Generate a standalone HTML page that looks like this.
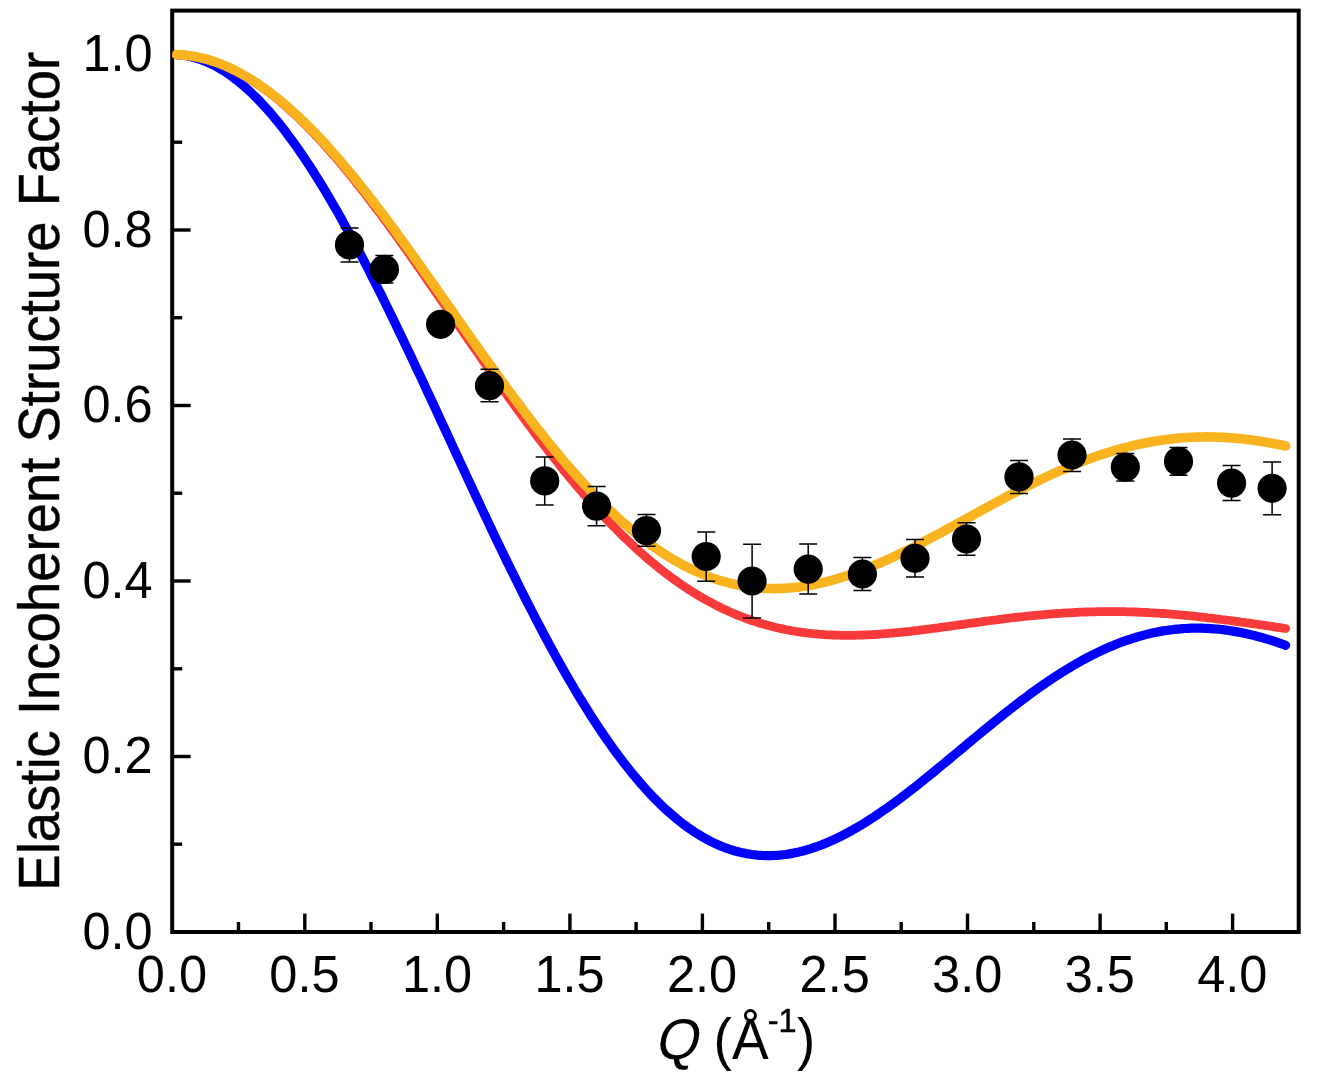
<!DOCTYPE html>
<html lang="en"><head><meta charset="utf-8"><title>Elastic Incoherent Structure Factor</title>
<style>html,body{margin:0;padding:0;background:#fff}svg{display:block}text{font-family:"Liberation Sans",sans-serif;fill:#000}</style></head><body>
<svg width="1322" height="1086" viewBox="0 0 1322 1086">
<rect width="1322" height="1086" fill="#fff"/>
<g stroke="#000" stroke-width="3.4" fill="none">
<path d="M238.5 932.0V922.0"/>
<path d="M304.8 932.0V913.6"/>
<path d="M371.0 932.0V922.0"/>
<path d="M437.3 932.0V913.6"/>
<path d="M503.6 932.0V922.0"/>
<path d="M569.9 932.0V913.6"/>
<path d="M636.1 932.0V922.0"/>
<path d="M702.4 932.0V913.6"/>
<path d="M768.7 932.0V922.0"/>
<path d="M835.0 932.0V913.6"/>
<path d="M901.2 932.0V922.0"/>
<path d="M967.5 932.0V913.6"/>
<path d="M1033.8 932.0V922.0"/>
<path d="M1100.1 932.0V913.6"/>
<path d="M1166.3 932.0V922.0"/>
<path d="M1232.6 932.0V913.6"/>
<path d="M172.2 844.2H182.2"/>
<path d="M172.2 756.5H190.6"/>
<path d="M172.2 668.8H182.2"/>
<path d="M172.2 581.0H190.6"/>
<path d="M172.2 493.2H182.2"/>
<path d="M172.2 405.5H190.6"/>
<path d="M172.2 317.7H182.2"/>
<path d="M172.2 230.0H190.6"/>
<path d="M172.2 142.2H182.2"/>
<path d="M172.2 54.5H190.6"/>
</g>
<rect x="172.2" y="10.6" width="1126.5" height="921.4" fill="none" stroke="#000" stroke-width="4.0"/>
<clipPath id="pa"><rect x="172.2" y="10.6" width="1126.5" height="921.4"/></clipPath>
<g fill="none" stroke-linecap="round" stroke-linejoin="round" clip-path="url(#pa)">
<path d="M176.4,54.6 L179.2,54.8 L182.0,55.1 L184.8,55.5 L187.6,56.0 L190.3,56.5 L193.1,57.2 L195.9,58.0 L198.7,58.9 L201.5,59.8 L204.2,60.9 L207.0,62.0 L209.8,63.3 L212.6,64.6 L215.4,66.0 L218.1,67.6 L220.9,69.2 L223.7,70.9 L226.5,72.7 L229.3,74.6 L232.0,76.6 L234.8,78.7 L237.6,80.8 L240.4,83.1 L243.2,85.4 L245.9,87.9 L248.7,90.4 L251.5,93.0 L254.3,95.7 L257.1,98.5 L259.8,101.3 L262.6,104.3 L265.4,107.3 L268.2,110.4 L271.0,113.6 L273.7,116.9 L276.5,120.2 L279.3,123.7 L282.1,127.2 L284.9,130.8 L287.6,134.4 L290.4,138.2 L293.2,142.0 L296.0,145.9 L298.8,149.9 L301.5,153.9 L304.3,158.0 L307.1,162.2 L309.9,166.4 L312.7,170.7 L315.4,175.1 L318.2,179.5 L321.0,184.0 L323.8,188.6 L326.6,193.2 L329.3,197.9 L332.1,202.7 L334.9,207.5 L337.7,212.3 L340.5,217.2 L343.2,222.2 L346.0,227.2 L348.8,232.3 L351.6,237.4 L354.4,242.6 L357.1,247.8 L359.9,253.1 L362.7,258.4 L365.5,263.8 L368.3,269.2 L371.0,274.6 L373.8,280.1 L376.6,285.6 L379.4,291.2 L382.2,296.7 L384.9,302.4 L387.7,308.0 L390.5,313.7 L393.3,319.4 L396.1,325.2 L398.8,331.0 L401.6,336.7 L404.4,342.6 L407.2,348.4 L410.0,354.3 L412.7,360.2 L415.5,366.1 L418.3,372.0 L421.1,377.9 L423.9,383.9 L426.6,389.9 L429.4,395.8 L432.2,401.8 L435.0,407.8 L437.8,413.8 L440.5,419.8 L443.3,425.8 L446.1,431.8 L448.9,437.9 L451.7,443.9 L454.4,449.9 L457.2,455.9 L460.0,461.9 L462.8,467.9 L465.6,473.9 L468.3,479.9 L471.1,485.8 L473.9,491.8 L476.7,497.8 L479.5,503.7 L482.2,509.6 L485.0,515.5 L487.8,521.4 L490.6,527.3 L493.3,533.1 L496.1,538.9 L498.9,544.7 L501.7,550.5 L504.5,556.2 L507.2,562.0 L510.0,567.6 L512.8,573.3 L515.6,578.9 L518.4,584.5 L521.1,590.1 L523.9,595.6 L526.7,601.1 L529.5,606.6 L532.3,612.0 L535.0,617.4 L537.8,622.7 L540.6,628.0 L543.4,633.3 L546.2,638.5 L548.9,643.7 L551.7,648.8 L554.5,653.9 L557.3,658.9 L560.1,663.9 L562.8,668.8 L565.6,673.7 L568.4,678.5 L571.2,683.3 L574.0,688.0 L576.7,692.7 L579.5,697.3 L582.3,701.8 L585.1,706.3 L587.9,710.8 L590.6,715.2 L593.4,719.5 L596.2,723.7 L599.0,728.0 L601.8,732.1 L604.5,736.2 L607.3,740.2 L610.1,744.2 L612.9,748.1 L615.7,751.9 L618.4,755.6 L621.2,759.3 L624.0,763.0 L626.8,766.5 L629.6,770.0 L632.3,773.5 L635.1,776.8 L637.9,780.1 L640.7,783.4 L643.5,786.5 L646.2,789.6 L649.0,792.6 L651.8,795.6 L654.6,798.5 L657.4,801.3 L660.1,804.0 L662.9,806.7 L665.7,809.3 L668.5,811.8 L671.3,814.3 L674.0,816.6 L676.8,818.9 L679.6,821.2 L682.4,823.4 L685.2,825.4 L687.9,827.5 L690.7,829.4 L693.5,831.3 L696.3,833.1 L699.1,834.8 L701.8,836.5 L704.6,838.1 L707.4,839.6 L710.2,841.1 L713.0,842.5 L715.7,843.8 L718.5,845.0 L721.3,846.2 L724.1,847.3 L726.9,848.3 L729.6,849.3 L732.4,850.1 L735.2,851.0 L738.0,851.7 L740.8,852.4 L743.5,853.0 L746.3,853.6 L749.1,854.0 L751.9,854.5 L754.7,854.8 L757.4,855.1 L760.2,855.3 L763.0,855.5 L765.8,855.6 L768.6,855.6 L771.3,855.6 L774.1,855.5 L776.9,855.3 L779.7,855.1 L782.5,854.8 L785.2,854.5 L788.0,854.1 L790.8,853.6 L793.6,853.1 L796.4,852.5 L799.1,851.9 L801.9,851.2 L804.7,850.5 L807.5,849.7 L810.3,848.8 L813.0,847.9 L815.8,847.0 L818.6,846.0 L821.4,845.0 L824.2,843.9 L826.9,842.7 L829.7,841.5 L832.5,840.3 L835.3,839.0 L838.1,837.7 L840.8,836.3 L843.6,834.9 L846.4,833.4 L849.2,831.9 L852.0,830.4 L854.7,828.8 L857.5,827.2 L860.3,825.6 L863.1,823.9 L865.9,822.1 L868.6,820.4 L871.4,818.6 L874.2,816.8 L877.0,814.9 L879.8,813.0 L882.5,811.1 L885.3,809.2 L888.1,807.2 L890.9,805.2 L893.7,803.2 L896.4,801.2 L899.2,799.1 L902.0,797.0 L904.8,794.9 L907.6,792.8 L910.3,790.6 L913.1,788.5 L915.9,786.3 L918.7,784.1 L921.5,781.9 L924.2,779.6 L927.0,777.4 L929.8,775.2 L932.6,772.9 L935.4,770.6 L938.1,768.3 L940.9,766.0 L943.7,763.7 L946.5,761.4 L949.3,759.1 L952.0,756.8 L954.8,754.5 L957.6,752.2 L960.4,749.9 L963.2,747.6 L965.9,745.2 L968.7,742.9 L971.5,740.6 L974.3,738.3 L977.1,736.0 L979.8,733.7 L982.6,731.4 L985.4,729.1 L988.2,726.9 L991.0,724.6 L993.7,722.3 L996.5,720.1 L999.3,717.9 L1002.1,715.6 L1004.9,713.4 L1007.6,711.2 L1010.4,709.1 L1013.2,706.9 L1016.0,704.8 L1018.8,702.6 L1021.5,700.5 L1024.3,698.4 L1027.1,696.4 L1029.9,694.3 L1032.6,692.3 L1035.4,690.3 L1038.2,688.3 L1041.0,686.3 L1043.8,684.4 L1046.5,682.5 L1049.3,680.6 L1052.1,678.7 L1054.9,676.9 L1057.7,675.1 L1060.4,673.3 L1063.2,671.6 L1066.0,669.8 L1068.8,668.2 L1071.6,666.5 L1074.3,664.9 L1077.1,663.3 L1079.9,661.7 L1082.7,660.1 L1085.5,658.6 L1088.2,657.2 L1091.0,655.7 L1093.8,654.3 L1096.6,653.0 L1099.4,651.6 L1102.1,650.3 L1104.9,649.0 L1107.7,647.8 L1110.5,646.6 L1113.3,645.5 L1116.0,644.3 L1118.8,643.2 L1121.6,642.2 L1124.4,641.2 L1127.2,640.2 L1129.9,639.3 L1132.7,638.4 L1135.5,637.5 L1138.3,636.7 L1141.1,635.9 L1143.8,635.1 L1146.6,634.4 L1149.4,633.7 L1152.2,633.1 L1155.0,632.5 L1157.7,631.9 L1160.5,631.4 L1163.3,630.9 L1166.1,630.5 L1168.9,630.1 L1171.6,629.7 L1174.4,629.4 L1177.2,629.1 L1180.0,628.9 L1182.8,628.6 L1185.5,628.5 L1188.3,628.3 L1191.1,628.2 L1193.9,628.2 L1196.7,628.1 L1199.4,628.2 L1202.2,628.2 L1205.0,628.3 L1207.8,628.4 L1210.6,628.6 L1213.3,628.8 L1216.1,629.0 L1218.9,629.2 L1221.7,629.5 L1224.5,629.9 L1227.2,630.3 L1230.0,630.7 L1232.8,631.1 L1235.6,631.6 L1238.4,632.1 L1241.1,632.6 L1243.9,633.2 L1246.7,633.8 L1249.5,634.4 L1252.3,635.1 L1255.0,635.8 L1257.8,636.5 L1260.6,637.2 L1263.4,638.0 L1266.2,638.8 L1268.9,639.7 L1271.7,640.5 L1274.5,641.4 L1277.3,642.3 L1280.1,643.3 L1282.8,644.3 L1285.6,645.3" stroke="#0000ff" stroke-width="9.2"/>
<path d="M176.4,54.6 L179.2,54.7 L182.0,54.9 L184.8,55.2 L187.6,55.5 L190.3,55.9 L193.1,56.3 L195.9,56.8 L198.7,57.4 L201.5,58.1 L204.2,58.8 L207.0,59.5 L209.8,60.4 L212.6,61.3 L215.4,62.2 L218.1,63.2 L220.9,64.3 L223.7,65.5 L226.5,66.7 L229.3,67.9 L232.0,69.3 L234.8,70.6 L237.6,72.1 L240.4,73.6 L243.2,75.2 L245.9,76.8 L248.7,78.5 L251.5,80.2 L254.3,82.0 L257.1,83.9 L259.8,85.8 L262.6,87.7 L265.4,89.8 L268.2,91.8 L271.0,94.0 L273.7,96.2 L276.5,98.4 L279.3,100.7 L282.1,103.1 L284.9,105.5 L287.6,107.9 L290.4,110.4 L293.2,113.0 L296.0,115.5 L298.8,118.2 L301.5,120.9 L304.3,123.6 L307.1,126.4 L309.9,129.3 L312.7,132.1 L315.4,135.1 L318.2,138.0 L321.0,141.0 L323.8,144.1 L326.6,147.2 L329.3,150.3 L332.1,153.5 L334.9,156.7 L337.7,159.9 L340.5,163.2 L343.2,166.6 L346.0,169.9 L348.8,173.3 L351.6,176.7 L354.4,180.2 L357.1,183.7 L359.9,187.2 L362.7,190.8 L365.5,194.3 L368.3,198.0 L371.0,201.6 L373.8,205.3 L376.6,209.0 L379.4,212.7 L382.2,216.4 L384.9,220.2 L387.7,224.0 L390.5,227.8 L393.3,231.6 L396.1,235.5 L398.8,239.3 L401.6,243.2 L404.4,247.1 L407.2,251.0 L410.0,255.0 L412.7,258.9 L415.5,262.9 L418.3,266.9 L421.1,270.9 L423.9,274.8 L426.6,278.9 L429.4,282.9 L432.2,286.9 L435.0,290.9 L437.8,295.0 L440.5,299.0 L443.3,303.0 L446.1,307.1 L448.9,311.2 L451.7,315.2 L454.4,319.3 L457.2,323.3 L460.0,327.4 L462.8,331.4 L465.6,335.5 L468.3,339.5 L471.1,343.5 L473.9,347.6 L476.7,351.6 L479.5,355.6 L482.2,359.6 L485.0,363.6 L487.8,367.6 L490.6,371.6 L493.3,375.6 L496.1,379.5 L498.9,383.5 L501.7,387.4 L504.5,391.3 L507.2,395.3 L510.0,399.1 L512.8,403.0 L515.6,406.9 L518.4,410.7 L521.1,414.5 L523.9,418.3 L526.7,422.1 L529.5,425.8 L532.3,429.6 L535.0,433.3 L537.8,437.0 L540.6,440.7 L543.4,444.3 L546.2,447.9 L548.9,451.5 L551.7,455.1 L554.5,458.6 L557.3,462.1 L560.1,465.6 L562.8,469.1 L565.6,472.5 L568.4,475.9 L571.2,479.3 L574.0,482.6 L576.7,485.9 L579.5,489.2 L582.3,492.4 L585.1,495.6 L587.9,498.8 L590.6,502.0 L593.4,505.1 L596.2,508.2 L599.0,511.2 L601.8,514.2 L604.5,517.2 L607.3,520.1 L610.1,523.0 L612.9,525.9 L615.7,528.7 L618.4,531.5 L621.2,534.3 L624.0,537.0 L626.8,539.7 L629.6,542.3 L632.3,544.9 L635.1,547.5 L637.9,550.0 L640.7,552.5 L643.5,555.0 L646.2,557.4 L649.0,559.8 L651.8,562.1 L654.6,564.4 L657.4,566.7 L660.1,568.9 L662.9,571.1 L665.7,573.2 L668.5,575.3 L671.3,577.4 L674.0,579.4 L676.8,581.4 L679.6,583.4 L682.4,585.3 L685.2,587.1 L687.9,589.0 L690.7,590.8 L693.5,592.5 L696.3,594.2 L699.1,595.9 L701.8,597.5 L704.6,599.1 L707.4,600.7 L710.2,602.2 L713.0,603.7 L715.7,605.1 L718.5,606.5 L721.3,607.9 L724.1,609.2 L726.9,610.5 L729.6,611.8 L732.4,613.0 L735.2,614.2 L738.0,615.3 L740.8,616.4 L743.5,617.5 L746.3,618.5 L749.1,619.5 L751.9,620.5 L754.7,621.4 L757.4,622.3 L760.2,623.2 L763.0,624.0 L765.8,624.8 L768.6,625.6 L771.3,626.3 L774.1,627.0 L776.9,627.7 L779.7,628.3 L782.5,628.9 L785.2,629.5 L788.0,630.0 L790.8,630.6 L793.6,631.0 L796.4,631.5 L799.1,631.9 L801.9,632.3 L804.7,632.7 L807.5,633.1 L810.3,633.4 L813.0,633.7 L815.8,633.9 L818.6,634.2 L821.4,634.4 L824.2,634.6 L826.9,634.8 L829.7,634.9 L832.5,635.0 L835.3,635.1 L838.1,635.2 L840.8,635.3 L843.6,635.3 L846.4,635.3 L849.2,635.3 L852.0,635.3 L854.7,635.3 L857.5,635.2 L860.3,635.1 L863.1,635.0 L865.9,634.9 L868.6,634.8 L871.4,634.6 L874.2,634.5 L877.0,634.3 L879.8,634.1 L882.5,633.9 L885.3,633.7 L888.1,633.5 L890.9,633.2 L893.7,633.0 L896.4,632.7 L899.2,632.5 L902.0,632.2 L904.8,631.9 L907.6,631.6 L910.3,631.3 L913.1,630.9 L915.9,630.6 L918.7,630.3 L921.5,629.9 L924.2,629.6 L927.0,629.2 L929.8,628.9 L932.6,628.5 L935.4,628.1 L938.1,627.8 L940.9,627.4 L943.7,627.0 L946.5,626.6 L949.3,626.3 L952.0,625.9 L954.8,625.5 L957.6,625.1 L960.4,624.7 L963.2,624.3 L965.9,623.9 L968.7,623.5 L971.5,623.2 L974.3,622.8 L977.1,622.4 L979.8,622.0 L982.6,621.6 L985.4,621.2 L988.2,620.9 L991.0,620.5 L993.7,620.1 L996.5,619.8 L999.3,619.4 L1002.1,619.1 L1004.9,618.7 L1007.6,618.4 L1010.4,618.0 L1013.2,617.7 L1016.0,617.4 L1018.8,617.1 L1021.5,616.8 L1024.3,616.5 L1027.1,616.2 L1029.9,615.9 L1032.6,615.6 L1035.4,615.3 L1038.2,615.1 L1041.0,614.8 L1043.8,614.6 L1046.5,614.3 L1049.3,614.1 L1052.1,613.9 L1054.9,613.7 L1057.7,613.5 L1060.4,613.3 L1063.2,613.1 L1066.0,612.9 L1068.8,612.8 L1071.6,612.6 L1074.3,612.5 L1077.1,612.3 L1079.9,612.2 L1082.7,612.1 L1085.5,612.0 L1088.2,611.9 L1091.0,611.8 L1093.8,611.8 L1096.6,611.7 L1099.4,611.7 L1102.1,611.6 L1104.9,611.6 L1107.7,611.6 L1110.5,611.6 L1113.3,611.6 L1116.0,611.6 L1118.8,611.6 L1121.6,611.7 L1124.4,611.7 L1127.2,611.8 L1129.9,611.9 L1132.7,611.9 L1135.5,612.0 L1138.3,612.1 L1141.1,612.3 L1143.8,612.4 L1146.6,612.5 L1149.4,612.7 L1152.2,612.8 L1155.0,613.0 L1157.7,613.1 L1160.5,613.3 L1163.3,613.5 L1166.1,613.7 L1168.9,613.9 L1171.6,614.2 L1174.4,614.4 L1177.2,614.6 L1180.0,614.9 L1182.8,615.1 L1185.5,615.4 L1188.3,615.7 L1191.1,615.9 L1193.9,616.2 L1196.7,616.5 L1199.4,616.8 L1202.2,617.1 L1205.0,617.4 L1207.8,617.8 L1210.6,618.1 L1213.3,618.4 L1216.1,618.8 L1218.9,619.1 L1221.7,619.5 L1224.5,619.8 L1227.2,620.2 L1230.0,620.5 L1232.8,620.9 L1235.6,621.3 L1238.4,621.7 L1241.1,622.1 L1243.9,622.4 L1246.7,622.8 L1249.5,623.2 L1252.3,623.6 L1255.0,624.0 L1257.8,624.4 L1260.6,624.8 L1263.4,625.2 L1266.2,625.6 L1268.9,626.0 L1271.7,626.4 L1274.5,626.9 L1277.3,627.3 L1280.1,627.7 L1282.8,628.1 L1285.6,628.5" stroke="#f93a3a" stroke-width="8.8"/>
<path d="M176.4,54.6 L179.2,54.7 L182.0,54.9 L184.8,55.1 L187.6,55.5 L190.3,55.8 L193.1,56.3 L195.9,56.8 L198.7,57.4 L201.5,58.0 L204.2,58.7 L207.0,59.4 L209.8,60.2 L212.6,61.1 L215.4,62.1 L218.1,63.1 L220.9,64.1 L223.7,65.2 L226.5,66.4 L229.3,67.7 L232.0,69.0 L234.8,70.3 L237.6,71.7 L240.4,73.2 L243.2,74.8 L245.9,76.3 L248.7,78.0 L251.5,79.7 L254.3,81.5 L257.1,83.3 L259.8,85.2 L262.6,87.1 L265.4,89.1 L268.2,91.1 L271.0,93.2 L273.7,95.4 L276.5,97.6 L279.3,99.8 L282.1,102.1 L284.9,104.5 L287.6,106.9 L290.4,109.3 L293.2,111.8 L296.0,114.4 L298.8,117.0 L301.5,119.6 L304.3,122.3 L307.1,125.1 L309.9,127.8 L312.7,130.7 L315.4,133.5 L318.2,136.4 L321.0,139.4 L323.8,142.4 L326.6,145.4 L329.3,148.5 L332.1,151.6 L334.9,154.8 L337.7,158.0 L340.5,161.2 L343.2,164.5 L346.0,167.8 L348.8,171.1 L351.6,174.5 L354.4,177.9 L357.1,181.3 L359.9,184.8 L362.7,188.2 L365.5,191.8 L368.3,195.3 L371.0,198.9 L373.8,202.5 L376.6,206.1 L379.4,209.8 L382.2,213.5 L384.9,217.2 L387.7,220.9 L390.5,224.6 L393.3,228.4 L396.1,232.2 L398.8,236.0 L401.6,239.8 L404.4,243.6 L407.2,247.5 L410.0,251.3 L412.7,255.2 L415.5,259.1 L418.3,263.0 L421.1,266.9 L423.9,270.9 L426.6,274.8 L429.4,278.7 L432.2,282.7 L435.0,286.6 L437.8,290.6 L440.5,294.6 L443.3,298.5 L446.1,302.5 L448.9,306.5 L451.7,310.4 L454.4,314.4 L457.2,318.4 L460.0,322.4 L462.8,326.3 L465.6,330.3 L468.3,334.3 L471.1,338.2 L473.9,342.2 L476.7,346.1 L479.5,350.0 L482.2,353.9 L485.0,357.8 L487.8,361.7 L490.6,365.6 L493.3,369.5 L496.1,373.4 L498.9,377.2 L501.7,381.1 L504.5,384.9 L507.2,388.7 L510.0,392.4 L512.8,396.2 L515.6,399.9 L518.4,403.7 L521.1,407.4 L523.9,411.1 L526.7,414.7 L529.5,418.3 L532.3,422.0 L535.0,425.5 L537.8,429.1 L540.6,432.6 L543.4,436.1 L546.2,439.6 L548.9,443.1 L551.7,446.5 L554.5,449.9 L557.3,453.2 L560.1,456.6 L562.8,459.9 L565.6,463.1 L568.4,466.4 L571.2,469.6 L574.0,472.7 L576.7,475.9 L579.5,478.9 L582.3,482.0 L585.1,485.0 L587.9,488.0 L590.6,491.0 L593.4,493.9 L596.2,496.7 L599.0,499.6 L601.8,502.4 L604.5,505.1 L607.3,507.8 L610.1,510.5 L612.9,513.1 L615.7,515.7 L618.4,518.3 L621.2,520.8 L624.0,523.3 L626.8,525.7 L629.6,528.1 L632.3,530.4 L635.1,532.7 L637.9,534.9 L640.7,537.1 L643.5,539.3 L646.2,541.4 L649.0,543.5 L651.8,545.5 L654.6,547.5 L657.4,549.4 L660.1,551.3 L662.9,553.1 L665.7,554.9 L668.5,556.6 L671.3,558.3 L674.0,560.0 L676.8,561.6 L679.6,563.1 L682.4,564.7 L685.2,566.1 L687.9,567.5 L690.7,568.9 L693.5,570.2 L696.3,571.5 L699.1,572.7 L701.8,573.9 L704.6,575.0 L707.4,576.1 L710.2,577.2 L713.0,578.2 L715.7,579.1 L718.5,580.0 L721.3,580.9 L724.1,581.7 L726.9,582.4 L729.6,583.1 L732.4,583.8 L735.2,584.4 L738.0,585.0 L740.8,585.6 L743.5,586.0 L746.3,586.5 L749.1,586.9 L751.9,587.3 L754.7,587.6 L757.4,587.8 L760.2,588.1 L763.0,588.2 L765.8,588.4 L768.6,588.5 L771.3,588.5 L774.1,588.6 L776.9,588.5 L779.7,588.5 L782.5,588.4 L785.2,588.2 L788.0,588.0 L790.8,587.8 L793.6,587.5 L796.4,587.2 L799.1,586.9 L801.9,586.5 L804.7,586.1 L807.5,585.7 L810.3,585.2 L813.0,584.7 L815.8,584.1 L818.6,583.5 L821.4,582.9 L824.2,582.2 L826.9,581.6 L829.7,580.8 L832.5,580.1 L835.3,579.3 L838.1,578.5 L840.8,577.6 L843.6,576.8 L846.4,575.9 L849.2,574.9 L852.0,574.0 L854.7,573.0 L857.5,572.0 L860.3,571.0 L863.1,569.9 L865.9,568.8 L868.6,567.7 L871.4,566.6 L874.2,565.4 L877.0,564.2 L879.8,563.0 L882.5,561.8 L885.3,560.6 L888.1,559.3 L890.9,558.1 L893.7,556.8 L896.4,555.5 L899.2,554.1 L902.0,552.8 L904.8,551.4 L907.6,550.0 L910.3,548.7 L913.1,547.3 L915.9,545.8 L918.7,544.4 L921.5,543.0 L924.2,541.5 L927.0,540.1 L929.8,538.6 L932.6,537.1 L935.4,535.6 L938.1,534.2 L940.9,532.7 L943.7,531.1 L946.5,529.6 L949.3,528.1 L952.0,526.6 L954.8,525.1 L957.6,523.6 L960.4,522.0 L963.2,520.5 L965.9,519.0 L968.7,517.4 L971.5,515.9 L974.3,514.4 L977.1,512.8 L979.8,511.3 L982.6,509.8 L985.4,508.3 L988.2,506.8 L991.0,505.2 L993.7,503.7 L996.5,502.2 L999.3,500.7 L1002.1,499.3 L1004.9,497.8 L1007.6,496.3 L1010.4,494.8 L1013.2,493.4 L1016.0,491.9 L1018.8,490.5 L1021.5,489.1 L1024.3,487.7 L1027.1,486.3 L1029.9,484.9 L1032.6,483.5 L1035.4,482.1 L1038.2,480.8 L1041.0,479.4 L1043.8,478.1 L1046.5,476.8 L1049.3,475.5 L1052.1,474.2 L1054.9,473.0 L1057.7,471.7 L1060.4,470.5 L1063.2,469.3 L1066.0,468.1 L1068.8,466.9 L1071.6,465.8 L1074.3,464.6 L1077.1,463.5 L1079.9,462.4 L1082.7,461.4 L1085.5,460.3 L1088.2,459.3 L1091.0,458.2 L1093.8,457.2 L1096.6,456.3 L1099.4,455.3 L1102.1,454.4 L1104.9,453.5 L1107.7,452.6 L1110.5,451.7 L1113.3,450.9 L1116.0,450.1 L1118.8,449.3 L1121.6,448.5 L1124.4,447.8 L1127.2,447.1 L1129.9,446.4 L1132.7,445.7 L1135.5,445.0 L1138.3,444.4 L1141.1,443.8 L1143.8,443.2 L1146.6,442.7 L1149.4,442.2 L1152.2,441.7 L1155.0,441.2 L1157.7,440.7 L1160.5,440.3 L1163.3,439.9 L1166.1,439.5 L1168.9,439.2 L1171.6,438.9 L1174.4,438.6 L1177.2,438.3 L1180.0,438.0 L1182.8,437.8 L1185.5,437.6 L1188.3,437.5 L1191.1,437.3 L1193.9,437.2 L1196.7,437.1 L1199.4,437.0 L1202.2,437.0 L1205.0,436.9 L1207.8,436.9 L1210.6,437.0 L1213.3,437.0 L1216.1,437.1 L1218.9,437.2 L1221.7,437.3 L1224.5,437.4 L1227.2,437.6 L1230.0,437.8 L1232.8,438.0 L1235.6,438.2 L1238.4,438.5 L1241.1,438.8 L1243.9,439.1 L1246.7,439.4 L1249.5,439.7 L1252.3,440.1 L1255.0,440.5 L1257.8,440.9 L1260.6,441.3 L1263.4,441.8 L1266.2,442.2 L1268.9,442.7 L1271.7,443.2 L1274.5,443.7 L1277.3,444.3 L1280.1,444.8 L1282.8,445.4 L1285.6,446.0" stroke="#f8b31e" stroke-width="9.6"/>
</g>
<g stroke="#000" stroke-width="1.5" fill="none">
<path d="M349.5 228.0V261.9M340.5 228.0H358.5M340.5 261.9H358.5"/>
<path d="M384.4 255.4V282.9M375.4 255.4H393.4M375.4 282.9H393.4"/>
<path d="M489.5 369.2V401.7M480.5 369.2H498.5M480.5 401.7H498.5"/>
<path d="M544.7 456.9V505.1M535.7 456.9H553.7M535.7 505.1H553.7"/>
<path d="M596.6 486.4V525.8M587.6 486.4H605.6M587.6 525.8H605.6"/>
<path d="M646.5 514.4V546.3M637.5 514.4H655.5M637.5 546.3H655.5"/>
<path d="M706.2 532.1V581.3M697.2 532.1H715.2M697.2 581.3H715.2"/>
<path d="M752.1 544.3V618.0M743.1 544.3H761.1M743.1 618.0H761.1"/>
<path d="M808.2 543.9V594.0M799.2 543.9H817.2M799.2 594.0H817.2"/>
<path d="M862.4 557.5V590.5M853.4 557.5H871.4M853.4 590.5H871.4"/>
<path d="M915.0 539.5V577.0M906.0 539.5H924.0M906.0 577.0H924.0"/>
<path d="M966.5 522.8V555.3M957.5 522.8H975.5M957.5 555.3H975.5"/>
<path d="M1019.0 460.4V493.4M1010.0 460.4H1028.0M1010.0 493.4H1028.0"/>
<path d="M1072.0 438.9V471.4M1063.0 438.9H1081.0M1063.0 471.4H1081.0"/>
<path d="M1125.3 453.6V480.9M1116.3 453.6H1134.3M1116.3 480.9H1134.3"/>
<path d="M1178.5 447.6V475.2M1169.5 447.6H1187.5M1169.5 475.2H1187.5"/>
<path d="M1231.6 465.6V500.6M1222.6 465.6H1240.6M1222.6 500.6H1240.6"/>
<path d="M1272.1 461.9V514.8M1263.1 461.9H1281.1M1263.1 514.8H1281.1"/>
</g>
<g fill="#000">
<circle cx="349.5" cy="244.9" r="14.6"/>
<circle cx="384.4" cy="269.4" r="14.6"/>
<circle cx="440.6" cy="324.3" r="14.6"/>
<circle cx="489.5" cy="385.7" r="14.6"/>
<circle cx="544.7" cy="480.9" r="14.6"/>
<circle cx="596.6" cy="506.1" r="14.6"/>
<circle cx="646.5" cy="530.6" r="14.6"/>
<circle cx="706.2" cy="556.5" r="14.6"/>
<circle cx="752.1" cy="581.0" r="14.6"/>
<circle cx="808.2" cy="569.1" r="14.6"/>
<circle cx="862.4" cy="574.0" r="14.6"/>
<circle cx="915.0" cy="558.3" r="14.6"/>
<circle cx="966.5" cy="539.0" r="14.6"/>
<circle cx="1019.0" cy="476.9" r="14.6"/>
<circle cx="1072.0" cy="455.0" r="14.6"/>
<circle cx="1125.3" cy="467.1" r="14.6"/>
<circle cx="1178.5" cy="461.4" r="14.6"/>
<circle cx="1231.6" cy="483.1" r="14.6"/>
<circle cx="1272.1" cy="488.3" r="14.6"/>
</g>
<text transform="translate(171.9,991.6) scale(1,1.030)" font-size="50.5" text-anchor="middle">0.0</text>
<text transform="translate(304.4,991.6) scale(1,1.030)" font-size="50.5" text-anchor="middle">0.5</text>
<text transform="translate(437.0,991.6) scale(1,1.030)" font-size="50.5" text-anchor="middle">1.0</text>
<text transform="translate(569.6,991.6) scale(1,1.030)" font-size="50.5" text-anchor="middle">1.5</text>
<text transform="translate(702.1,991.6) scale(1,1.030)" font-size="50.5" text-anchor="middle">2.0</text>
<text transform="translate(834.7,991.6) scale(1,1.030)" font-size="50.5" text-anchor="middle">2.5</text>
<text transform="translate(967.2,991.6) scale(1,1.030)" font-size="50.5" text-anchor="middle">3.0</text>
<text transform="translate(1099.8,991.6) scale(1,1.030)" font-size="50.5" text-anchor="middle">3.5</text>
<text transform="translate(1232.3,991.6) scale(1,1.030)" font-size="50.5" text-anchor="middle">4.0</text>
<text transform="translate(152.6,948.6) scale(1,1.030)" font-size="50.5" text-anchor="end">0.0</text>
<text transform="translate(152.6,773.1) scale(1,1.030)" font-size="50.5" text-anchor="end">0.2</text>
<text transform="translate(152.6,597.6) scale(1,1.030)" font-size="50.5" text-anchor="end">0.4</text>
<text transform="translate(152.6,422.1) scale(1,1.030)" font-size="50.5" text-anchor="end">0.6</text>
<text transform="translate(152.6,246.6) scale(1,1.030)" font-size="50.5" text-anchor="end">0.8</text>
<text transform="translate(152.6,71.1) scale(1,1.030)" font-size="50.5" text-anchor="end">1.0</text>
<text stroke="#000" stroke-width="0.4" transform="translate(59.2,471.3) rotate(-90) scale(1,1.045)" font-size="54.5" text-anchor="middle">Elastic Incoherent Structure Factor</text>
<text transform="translate(654.3,1059) skewX(-12) scale(1,1.045)" font-size="55">Q</text>
<text transform="translate(713.6,1059.0) scale(1,1.045)" font-size="55.0" text-anchor="start">(Å</text>
<g style="filter:grayscale(1)"><text transform="translate(767.8,1032.4) scale(1,1.045)" font-size="32.5" stroke="#000" stroke-width="0.5">-1</text></g>
<text transform="translate(797.0,1059.0) scale(1,1.045)" font-size="55.0" text-anchor="start">)</text>
</svg></body></html>
